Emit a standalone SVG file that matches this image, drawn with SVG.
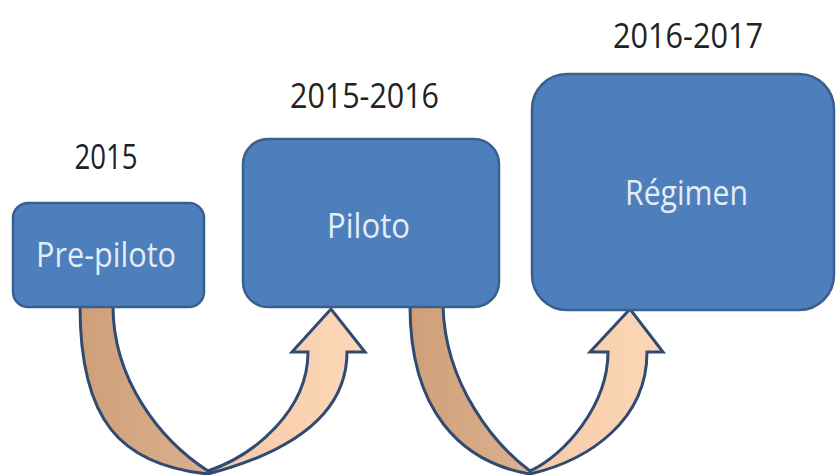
<svg xmlns="http://www.w3.org/2000/svg" width="836" height="475" viewBox="0 0 836 475">
<defs>
<linearGradient id="band" x1="0" y1="0" x2="1" y2="0">
<stop offset="0" stop-color="#cf9f78"/>
<stop offset="0.44" stop-color="#dbb08e"/>
<stop offset="0.5" stop-color="#f5cba8"/>
<stop offset="1" stop-color="#fcd7b8"/>
</linearGradient>
<style>
.box{fill:#4d7fbc;stroke:#3a5f8c;stroke-width:2.5}
.arrow{fill:url(#band);stroke:#2f4b72;stroke-width:3;stroke-linejoin:miter}
.lbl{font-family:"Open Sans","Noto Sans",sans-serif;font-size:34px;fill:#222;text-anchor:middle}
.in{font-family:"Open Sans","Noto Sans",sans-serif;font-size:34px;fill:#e4ecf6;text-anchor:middle}
</style>
</defs>
<g id="connectors">
<path class="arrow" d="M 80 306 C 80 420, 120 465, 208 474 C 280 455, 347 420, 347 352 L 365 352 L 331 309 L 292 352 L 308 352 C 308 410, 255 455, 208 471 C 160 440, 113 380, 113 306 Z"/>
<path class="arrow" d="M 410 306 C 410 410, 460 462, 530 474 C 590 460, 647 420, 647 352 L 663 352 L 630 309 L 590 352 L 608 352 C 608 405, 565 455, 530 471 C 495 445, 445 385, 443 306 Z"/>
</g>
<g id="pre-piloto">
<rect class="box" x="13" y="203" width="191" height="104" rx="15"/>
<text class="in" x="106" y="267" textLength="140" lengthAdjust="spacingAndGlyphs">Pre-piloto</text>
<text class="lbl" x="106" y="169" textLength="63" lengthAdjust="spacingAndGlyphs">2015</text>
</g>
<g id="piloto">
<rect class="box" x="243" y="139" width="256" height="168" rx="25"/>
<text class="in" x="368.5" y="238" textLength="83" lengthAdjust="spacingAndGlyphs">Piloto</text>
<text class="lbl" x="364.5" y="108" textLength="149" lengthAdjust="spacingAndGlyphs">2015-2016</text>
</g>
<g id="regimen">
<rect class="box" x="532" y="74" width="302" height="236" rx="35"/>
<text class="in" x="686.5" y="205" textLength="123" lengthAdjust="spacingAndGlyphs">Régimen</text>
<text class="lbl" x="688" y="48" textLength="150" lengthAdjust="spacingAndGlyphs">2016-2017</text>
</g>
</svg>
